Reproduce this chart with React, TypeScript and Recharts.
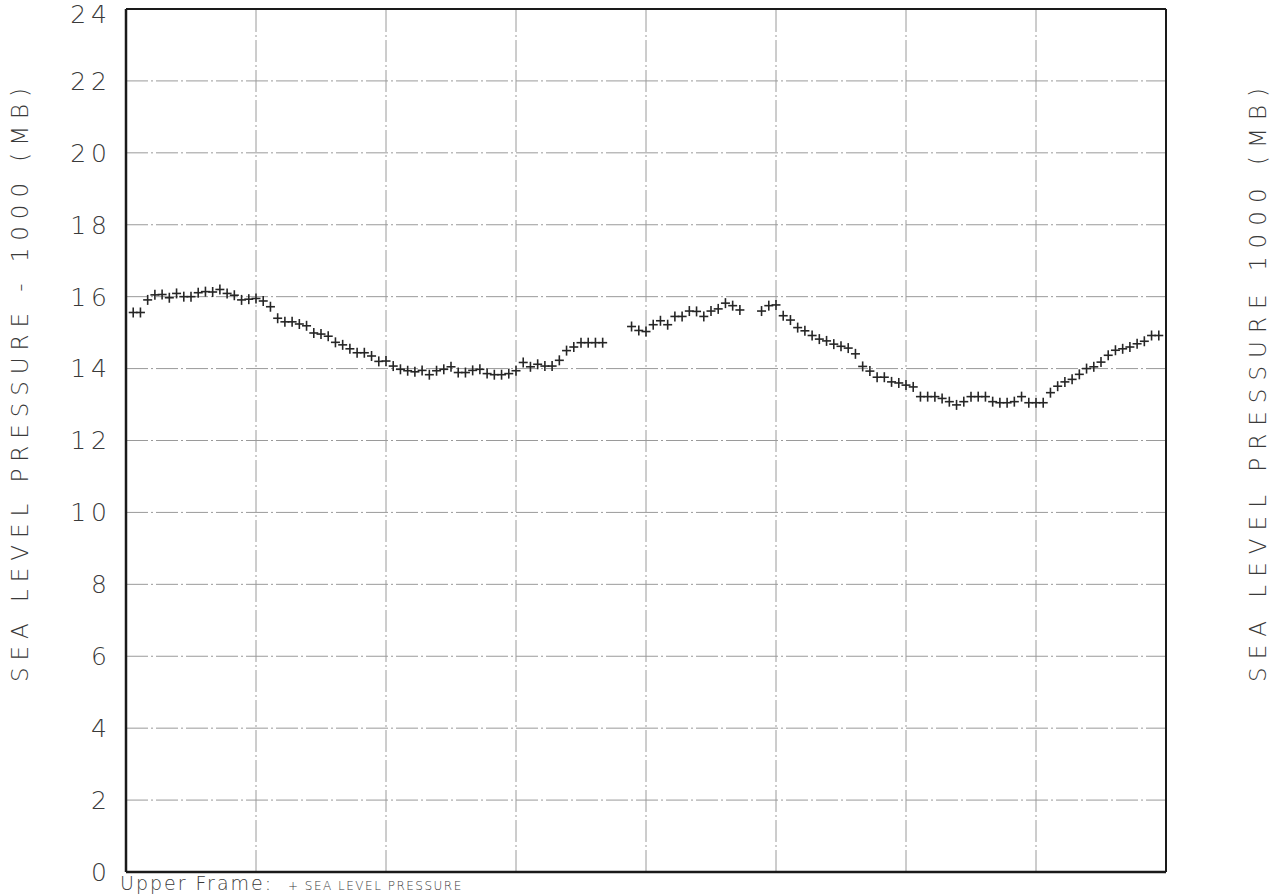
import { ScatterChart, Scatter, XAxis, YAxis, CartesianGrid, ReferenceLine } from 'recharts';

// x positions are sample numbers, 18 samples per grid column
const xTicks = [0, 18, 36, 54, 72, 90, 108, 126, 144];
const yTicks = [0, 2, 4, 6, 8, 10, 12, 14, 16, 18, 20, 22, 24];

// sea level pressure - 1000 (mb), samples 1..143, null = missing
const pressure: (number | null)[] = [
    15.56, 15.56, 15.91, 16.05, 16.06, 15.97, 16.09, 16.0, 16.0, 16.11,
    16.14, 16.13, 16.2, 16.09, 16.04, 15.91, 15.93, 15.95, 15.88, 15.72,
    15.4, 15.3, 15.3, 15.24, 15.19, 14.99, 14.96, 14.9, 14.73, 14.66,
    14.55, 14.44, 14.44, 14.35, 14.2, 14.21, 14.07, 13.98, 13.94, 13.91,
    13.95, 13.83, 13.94, 13.98, 14.05, 13.89, 13.89, 13.95, 13.98, 13.86,
    13.83, 13.83, 13.86, 13.94, 14.17, 14.05, 14.12, 14.07, 14.07, 14.23,
    14.5, 14.6, 14.72, 14.72, 14.72, 14.72, null, null, null, 15.17,
    15.06, 15.03, 15.22, 15.33, 15.22, 15.45, 15.45, 15.6, 15.59, 15.45,
    15.6, 15.66, 15.82, 15.75, 15.63, null, null, 15.6, 15.75, 15.77,
    15.47, 15.35, 15.14, 15.05, 14.92, 14.82, 14.77, 14.68, 14.62, 14.57,
    14.41, 14.06, 13.93, 13.76, 13.76, 13.63, 13.6, 13.54, 13.49, 13.22,
    13.22, 13.22, 13.17, 13.08, 12.99, 13.08, 13.22, 13.22, 13.22, 13.08,
    13.05, 13.05, 13.08, 13.22, 13.05, 13.05, 13.05, 13.33, 13.51, 13.63,
    13.7, 13.84, 14.0, 14.05, 14.18, 14.37, 14.51, 14.55, 14.6, 14.69,
    14.76, 14.92, 14.92,
];

const data = pressure
    .map((v, i) => ({ x: i + 1, y: v }))
    .filter(d => d.y !== null);

const FONT = '"DejaVu Sans", sans-serif';
const INK = '#3a3a3a';
const GRID = '#9a9a9a';
const DASH = '22 3 2 3';

const PlusMark = (props: any) => {
    const { cx, cy } = props;
    if (cx == null || cy == null) return null;
    return (
        <g stroke="#262626" strokeWidth={1.6}>
            <line x1={cx - 4.5} y1={cy} x2={cx + 4.5} y2={cy} />
            <line x1={cx} y1={cy - 5} x2={cx} y2={cy + 5} />
        </g>
    );
};

const tickStyle = { fill: INK, fontSize: 25, fontFamily: FONT, fontWeight: 200, letterSpacing: 5 };

export default function App() {
    return (
        <div style={{ position: 'absolute', left: 0, top: 0, width: 1277, height: 896, background: '#fff', overflow: 'hidden' }}>
            <ScatterChart width={1277} height={896} margin={{ top: 0, right: 0, bottom: 0, left: 0 }}>
                <CartesianGrid
                    xAxisId="b"
                    yAxisId="l"
                    stroke={GRID}
                    strokeWidth={1}
                    strokeDasharray={DASH}
                    vertical={false}
                    horizontalValues={yTicks}
                />
                {/* vertical grid lines, one per column boundary */}
                {xTicks.slice(1, -1).map(t => (
                    <ReferenceLine
                        key={`vx-${t}`}
                        x={t}
                        xAxisId="b"
                        yAxisId="l"
                        stroke={GRID}
                        strokeWidth={1}
                        strokeDasharray={DASH}
                    />
                ))}
                <XAxis
                    xAxisId="b"
                    type="number"
                    dataKey="x"
                    domain={[0, 144]}
                    ticks={xTicks}
                    height={24}
                    tick={false}
                    tickLine={false}
                    axisLine={{ stroke: '#1a1a1a', strokeWidth: 2.5 }}
                />
                <XAxis
                    xAxisId="t"
                    orientation="top"
                    type="number"
                    dataKey="x"
                    domain={[0, 144]}
                    ticks={xTicks}
                    height={9}
                    tick={false}
                    tickLine={false}
                    axisLine={{ stroke: '#1a1a1a', strokeWidth: 2 }}
                />
                <YAxis
                    yAxisId="l"
                    type="number"
                    dataKey="y"
                    domain={[0, 24]}
                    ticks={yTicks}
                    width={126}
                    tickSize={0}
                    tickMargin={14}
                    tickLine={false}
                    tick={tickStyle}
                    axisLine={{ stroke: '#1a1a1a', strokeWidth: 2.5 }}
                />
                <YAxis
                    yAxisId="r"
                    orientation="right"
                    type="number"
                    dataKey="y"
                    domain={[0, 24]}
                    ticks={yTicks}
                    width={111}
                    tickSize={0}
                    tickMargin={16}
                    tickLine={false}
                    tick={tickStyle}
                    axisLine={{ stroke: '#1a1a1a', strokeWidth: 2 }}
                />
                <Scatter
                    data={data}
                    xAxisId="b"
                    yAxisId="l"
                    shape={<PlusMark />}
                    isAnimationActive={false}
                />
            </ScatterChart>
            <svg width={1277} height={896} style={{ position: 'absolute', left: 0, top: 0, pointerEvents: 'none' }}>
                <text
                    transform="translate(28,385) rotate(-90)"
                    textAnchor="middle"
                    fontFamily={FONT}
                    fontWeight={300}
                    fontSize={23}
                    fill={INK}
                    textLength={594}
                    lengthAdjust="spacing"
                >
                    SEA LEVEL PRESSURE - 1000 (MB)
                </text>
                <text
                    transform="translate(1266,385) rotate(-90)"
                    textAnchor="middle"
                    fontFamily={FONT}
                    fontWeight={300}
                    fontSize={23}
                    fill={INK}
                    textLength={594}
                    lengthAdjust="spacing"
                >
                    SEA LEVEL PRESSURE 1000 (MB)
                </text>
                <text x={120} y={890} fontFamily={FONT} fontWeight={200} fontSize={19} fill={INK} letterSpacing={2}>
                    Upper Frame:
                </text>
                <text x={288} y={890} fontFamily={FONT} fontWeight={300} fontSize={12} fill={INK} letterSpacing={1.5}>
                    + SEA LEVEL PRESSURE
                </text>
            </svg>
        </div>
    );
}
